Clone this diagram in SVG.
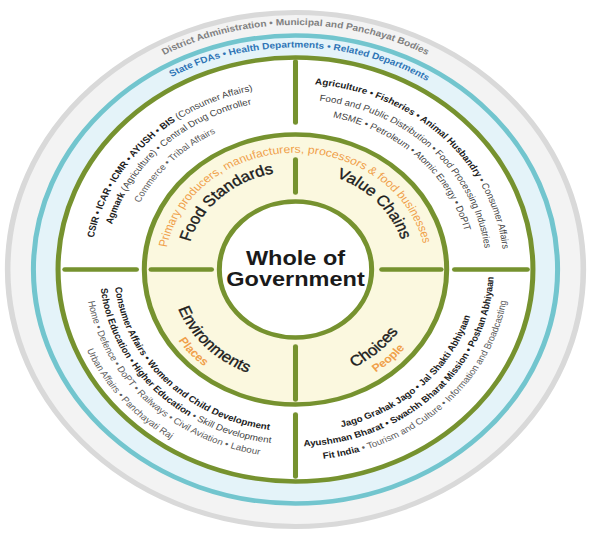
<svg xmlns="http://www.w3.org/2000/svg" width="592" height="549" viewBox="0 0 592 549">
<style>
 text{font-family:"Liberation Sans",Arial,Helvetica,sans-serif}
 .div{stroke:#76922f;stroke-width:4.5;stroke-linecap:round;fill:none}
 .sm{font-size:8.8px}
 .b{font-weight:bold;fill:#1c1c1c}
 .n{fill:#444}
 .g{fill:#5c5c5c}
 .lab{font-size:15px;fill:#1c1c1c;stroke:#1c1c1c;stroke-width:0.35}
 .or{fill:#f0a04a}
</style>
<defs>
 <path id="pDist" d="M -240.8 -42.4 A 244.5 244.5 0 0 1 240.8 -42.4"/>
 <path id="pState" d="M -217.9 -42.4 A 222 222 0 0 1 219.3 -34.7"/>
 <path id="pTL1" d="M -148.0 107.6 A 183 183 0 0 1 102.3 -151.7"/>
 <path id="pTL2" d="M -140.9 95.1 A 170 170 0 0 1 99.9 -137.5"/>
 <path id="pTL3" d="M -124.6 90.5 A 154 154 0 0 1 86.1 -127.7"/>
 <path id="pTR1" d="M -108.0 -151.4 A 186 186 0 0 1 153.3 105.4"/>
 <path id="pTR2" d="M -97.5 -139.3 A 170 170 0 0 1 139.3 97.5"/>
 <path id="pTR3" d="M -91.7 -126.2 A 156 156 0 0 1 129.3 87.2"/>
 <path id="pPrim" d="M -114.9 22.3 A 117 117 0 1 1 115.6 18.3"/>
 <path id="pFS" d="M -82.7 52.7 A 98 98 0 0 1 59.7 -77.7"/>
 <path id="pVC" d="M -53.9 -83.0 A 99 99 0 0 1 79.1 59.6"/>
 <path id="pBL1" d="M -131.1 -95.2 A 162 162 0 0 0 90.6 134.3"/>
 <path id="pBL2" d="M -142.5 -101.6 A 175 175 0 0 0 99.1 144.2"/>
 <path id="pBL3" d="M -154.0 -107.8 A 188 188 0 0 0 107.8 154.0"/>
 <path id="pBL4" d="M -155.5 -130.5 A 203 203 0 0 0 101.5 175.8"/>
 <path id="pEnv" d="M -90.6 -65.8 A 112 112 0 0 0 62.6 92.8"/>
 <path id="pPla" d="M -99.7 -77.9 A 126.5 126.5 0 0 0 67.0 107.3"/>
 <path id="pCho" d="M -68.3 87.5 A 111 111 0 0 0 94.1 -58.8"/>
 <path id="pPeo" d="M -75.5 100.2 A 125.5 125.5 0 0 0 105.3 -68.3"/>
 <path id="pBR1" d="M -95.8 131.9 A 163 163 0 0 0 135.1 -91.1"/>
 <path id="pBR2" d="M -101.5 145.0 A 177 177 0 0 0 145.0 -101.5"/>
 <path id="pBR3" d="M -112.3 154.5 A 191 191 0 0 0 158.3 -106.8"/>
</defs>
<rect width="592" height="549" fill="#ffffff"/>
<g transform="translate(295.5 269.5) scale(1.12 1)">
 <g id="ring-district">
  <circle r="257" fill="#f3f3f3" stroke="#d9d9d9" stroke-width="5"/>
  <text font-size="9" font-weight="bold" fill="#808080" text-anchor="middle"><textPath href="#pDist" startOffset="50%">District Administration • Municipal and Panchayat Bodies</textPath></text>
 </g>
 <g id="ring-state">
  <circle r="234" fill="#e4f3f9" stroke="#72c5ce" stroke-width="4.5"/>
  <text font-size="9" font-weight="bold" fill="#2e75b6" text-anchor="middle"><textPath href="#pState" startOffset="50%">State FDAs • Health Departments • Related Departments</textPath></text>
 </g>
 <g id="ring-ministries">
  <circle r="212" fill="#ffffff" stroke="#76922f" stroke-width="4.5"/>
 </g>
 <g id="ring-domains">
  <circle r="135" fill="#fbf8df" stroke="#76922f" stroke-width="4.5"/>
  <text font-size="11" class="or" text-anchor="middle"><textPath href="#pPrim" startOffset="50%">Primary producers, manufacturers, processors &amp; food businesses</textPath></text>
 </g>
 <g id="whole-of-government">
  <circle r="68" fill="#ffffff" stroke="#76922f" stroke-width="4.5"/>
  <text x="0" y="-5" text-anchor="middle" font-size="21" font-weight="bold" fill="#1a1a1a">Whole of</text>
  <text x="0" y="16" text-anchor="middle" font-size="21" font-weight="bold" fill="#1a1a1a">Government</text>
 </g>
 <g id="dividers">
  <line class="div" x1="0" y1="-208" x2="0" y2="-147"/>
  <line class="div" x1="0" y1="-110" x2="0" y2="-77"/>
  <line class="div" x1="0" y1="77" x2="0" y2="130"/>
  <line class="div" x1="0" y1="145" x2="0" y2="207"/>
  <line class="div" x1="-206" y1="0" x2="-142" y2="0"/>
  <line class="div" x1="-129" y1="0" x2="-75" y2="0"/>
  <line class="div" x1="77" y1="0" x2="130" y2="0"/>
  <line class="div" x1="142" y1="0" x2="207" y2="0"/>
 </g>
 <g id="food-standards">
  <text class="lab" text-anchor="middle"><textPath href="#pFS" startOffset="50%">Food Standards</textPath></text>
  <text class="sm" text-anchor="middle"><textPath href="#pTL1" startOffset="50%"><tspan class="b">CSIR • ICAR • ICMR • AYUSH • BIS</tspan><tspan class="n"> (Consumer Affairs)</tspan></textPath></text>
  <text class="sm" text-anchor="middle"><textPath href="#pTL2" startOffset="50%"><tspan class="b">Agmark</tspan><tspan class="n"> (Agriculture) • Central Drug Controller</tspan></textPath></text>
  <text class="sm g" text-anchor="middle"><textPath href="#pTL3" startOffset="50%">Commerce • Tribal Affairs</textPath></text>
 </g>
 <g id="value-chains">
  <text class="lab" text-anchor="middle"><textPath href="#pVC" startOffset="50%">Value Chains</textPath></text>
  <text class="sm" text-anchor="middle"><textPath href="#pTR1" startOffset="50%"><tspan class="b">Agriculture • Fisheries • Animal Husbandry</tspan><tspan class="n"> • Consumer Affairs</tspan></textPath></text>
  <text class="sm n" text-anchor="middle"><textPath href="#pTR2" startOffset="50%">Food and Public Distribution • Food Processing Industries</textPath></text>
  <text class="sm n" text-anchor="middle"><textPath href="#pTR3" startOffset="50%">MSME • Petroleum • Atomic Energy • DoPIT</textPath></text>
 </g>
 <g id="environments">
  <text class="lab" text-anchor="middle"><textPath href="#pEnv" startOffset="50%">Environments</textPath></text>
  <text font-size="11" font-weight="bold" class="or" text-anchor="middle"><textPath href="#pPla" startOffset="50%">Places</textPath></text>
  <text class="sm b" text-anchor="middle"><textPath href="#pBL1" startOffset="50%">Consumer Affairs • Women and Child Development</textPath></text>
  <text class="sm" text-anchor="middle"><textPath href="#pBL2" startOffset="50%"><tspan class="b">School Education • Higher Education</tspan><tspan class="n"> • Skill Development</tspan></textPath></text>
  <text class="sm g" text-anchor="middle"><textPath href="#pBL3" startOffset="50%">Home • Defence • DoPT • Railways • Civil Aviation • Labour</textPath></text>
  <text class="sm g" text-anchor="middle"><textPath href="#pBL4" startOffset="50%">Urban Affairs • Panchayati Raj</textPath></text>
 </g>
 <g id="choices">
  <text class="lab" text-anchor="middle"><textPath href="#pCho" startOffset="50%">Choices</textPath></text>
  <text font-size="11" font-weight="bold" class="or" text-anchor="middle"><textPath href="#pPeo" startOffset="50%">People</textPath></text>
  <text class="sm b" text-anchor="middle"><textPath href="#pBR1" startOffset="50%">Jago Grahak Jago • Jal Shakti Abhiyaan</textPath></text>
  <text class="sm b" text-anchor="middle"><textPath href="#pBR2" startOffset="50%">Ayushman Bharat • Swachh Bharat Mission • Poshan Abhiyaan</textPath></text>
  <text class="sm" text-anchor="middle"><textPath href="#pBR3" startOffset="50%"><tspan class="b">Fit India</tspan><tspan class="g"> • Tourism and Culture • Information and Broadcasting</tspan></textPath></text>
 </g>
</g>
</svg>
